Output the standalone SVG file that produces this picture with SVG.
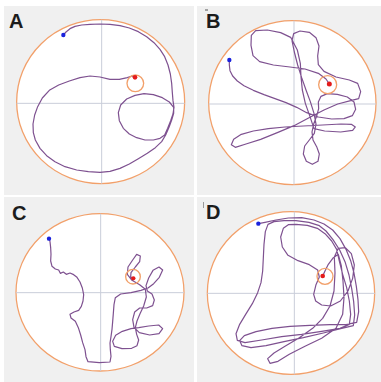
<svg xmlns="http://www.w3.org/2000/svg" width="381" height="382" viewBox="0 0 381 382">
<style>
.bg{fill:#f0f0f0}
.arena{fill:#ffffff;stroke:#f2a06a;stroke-width:3.8}
.axis{stroke:#c9cdd9;stroke-width:3}
.track{fill:none;stroke:#7e5190;stroke-width:3.6;stroke-linejoin:round;stroke-linecap:round}
.goal{fill:none;stroke:#f2a06a;stroke-width:4}
.start{fill:#1a22dd}
.end{fill:#e41b1b}
.label{font-family:"Liberation Sans",Arial,sans-serif;font-weight:bold;font-size:20px;fill:#1c1c1c}
.mark{stroke:#555;stroke-width:1}
</style>
<rect width="381" height="382" fill="#ffffff"/>
<g id="panel-A">
<rect class="bg" x="4" y="6" width="190" height="189"/>
<g transform="scale(0.33333)">
<ellipse class="arena" cx="302" cy="305" rx="252" ry="246"/>
<line class="axis" x1="305" y1="59" x2="305" y2="551"/>
<line class="axis" x1="50" y1="310" x2="554" y2="310"/>
<g class="connectors">
<path class="track" d="M190,105 L198,96 210,86 225,79 245,75 270,73 300,72 330,73 360,77 388,84 415,95 440,110 462,128 480,148 494,170 504,195 511,222 515,250 517,278 519,302 522,322 519,342 512,362 503,385 494,405 480,415 460,420 435,420 410,413 388,402 370,385 358,362 355,338 362,315 380,297 405,286 432,281 460,284 487,293 508,306 521,322 521,340 515,360 507,382 497,405 485,425 466,443 442,460 415,476 388,492 360,505 330,514 300,517 265,515 230,510 195,500 165,485 140,467 120,445 106,420 100,398 99,372 104,345 113,320 127,294 148,271 176,255 208,243 240,233 270,228 300,231 330,238 358,238 382,233 396,228 405,232"/>
</g>
<circle class="goal" cx="406" cy="250" r="25"/>
<circle class="start" cx="190" cy="105" r="6.5"/>
<circle class="end" cx="405" cy="232" r="7"/>
</g>
<text class="label" x="9" y="28">A</text>
</g>
<g id="panel-B">
<rect class="bg" x="197" y="6" width="184" height="189"/>
<line class="mark" x1="205" y1="10" x2="208" y2="10"/>
<g transform="translate(190,0) scale(0.33333)">
<ellipse class="arena" cx="307" cy="308" rx="251" ry="246"/>
<line class="axis" x1="312" y1="62" x2="312" y2="554"/>
<line class="axis" x1="56" y1="312" x2="558" y2="312"/>
<g class="connectors">
<path class="track" d="M118,180 L118,195 120,212 128,228 142,243 162,257 190,271 222,284 255,296 288,308 320,322 350,338 385,351 425,357 462,356 487,347 497,328 492,306 472,291 442,283 412,281 393,289 385,306 386,326 380,348 371,372 366,396 369,420 380,440 388,462 384,484 367,493 349,484 340,462 344,438 358,420 373,400 378,372 372,340 361,305 348,270 335,233 323,195 313,156 306,122 311,101 330,93 358,97 378,113 387,138 383,168 385,194 402,214 438,231 478,240 503,250 512,275 506,296 482,302 443,312 402,330 360,352 312,377 262,398 212,418 168,432 136,442 124,434 131,418 154,403 190,393 235,386 285,381 340,378 398,375 453,372 484,373 496,381 488,391 452,396 404,393 372,386 360,350 346,310 337,270 333,230 331,190 322,150 302,112 272,98 232,90 197,92 184,106 183,136 189,167 209,185 250,195 300,201 345,207 385,220 408,237 418,252"/>
</g>
<circle class="goal" cx="413" cy="254" r="27"/>
<circle class="start" cx="118" cy="180" r="6.5"/>
<circle class="end" cx="418" cy="252" r="7.5"/>
</g>
<text class="label" x="206" y="28">B</text>
</g>
<g id="panel-C">
<rect class="bg" x="4" y="197" width="190" height="185"/>
<g transform="translate(0,191) scale(0.33333)">
<ellipse class="arena" cx="300" cy="304" rx="252" ry="236"/>
<line class="axis" x1="302" y1="68" x2="302" y2="540"/>
<line class="axis" x1="48" y1="305" x2="552" y2="305"/>
<g class="connectors">
<path class="track" d="M147,143 L150,152 152,170 153,190 152,210 156,226 166,234 176,237 181,247 190,243 199,250 210,246 221,251 231,259 240,273 247,291 251,311 249,330 244,346 236,358 222,363 210,370 213,381 226,391 235,410 242,432 248,455 255,476 258,497 264,512 298,515 330,513 333,496 331,476 330,456 333,437 336,415 338,392 340,367 342,341 346,320 362,309 393,305 423,298 444,291 461,278 478,259 488,237 477,228 459,238 446,261 438,284 442,300 456,309 463,327 458,344 440,351 419,351 404,363 398,386 402,409 418,425 449,432 477,428 488,413 476,402 446,405 416,410 393,413 367,421 347,433 338,451 343,466 366,473 395,472 411,464 416,447 410,430 406,410 411,390 420,368 431,345 439,318 436,295 419,281 396,268 382,250 384,228 398,207 410,190 421,195 419,212 406,228 393,245 392,258 400,262"/>
</g>
<circle class="goal" cx="399" cy="257" r="22"/>
<circle class="start" cx="147" cy="143" r="6.5"/>
<circle class="end" cx="400" cy="262" r="6.5"/>
</g>
<text class="label" x="12" y="220">C</text>
</g>
<g id="panel-D">
<rect class="bg" x="197" y="197" width="184" height="185"/>
<line class="mark" x1="203.5" y1="202" x2="203.5" y2="208" style="stroke:#999"/>
<g transform="translate(190,191) scale(0.33333)">
<ellipse class="arena" cx="303" cy="306" rx="251" ry="244"/>
<line class="axis" x1="313" y1="62" x2="313" y2="550"/>
<line class="axis" x1="52" y1="307" x2="555" y2="307"/>
<g class="connectors">
<path class="track" d="M205,98 L225,94 258,87 295,81 335,80 372,87 402,99 428,117 450,143 468,175 482,209 492,246 499,286 504,326 506,362 500,394 470,400 420,401 360,403 300,406 246,412 198,422 163,434 149,449 156,464 183,470 228,464 282,452 340,440 400,426 452,413 490,404 494,372 491,332 485,292 477,252 465,212 449,177 429,146 408,120 388,104 357,94 318,89 282,89 252,92 234,100 226,122 222,160 220,200 218,240 213,275 203,305 187,338 167,370 149,400 138,428 142,448 165,455 215,447 275,437 335,430 395,421 450,412 478,400 482,370 478,330 470,290 458,250 448,210 440,175 425,150 405,128 382,112 352,103 318,100 295,101 280,112 272,138 277,168 294,193 324,209 358,221 383,237 388,258 378,281 371,310 377,330 395,342 422,345 451,330 474,300 488,262 493,222 484,188 466,170 445,172 433,198 435,245 432,300 420,345 398,382 368,412 328,440 285,466 252,486 233,503 240,517 264,511 298,490 345,466 395,442 438,412 458,370 462,320 459,270 454,225 445,190 430,200 415,220 405,240 398,255"/>
</g>
<circle class="goal" cx="405" cy="256" r="24"/>
<circle class="start" cx="205" cy="98" r="6.5"/>
<circle class="end" cx="398" cy="255" r="7"/>
</g>
<text class="label" x="206" y="219">D</text>
</g>
</svg>
